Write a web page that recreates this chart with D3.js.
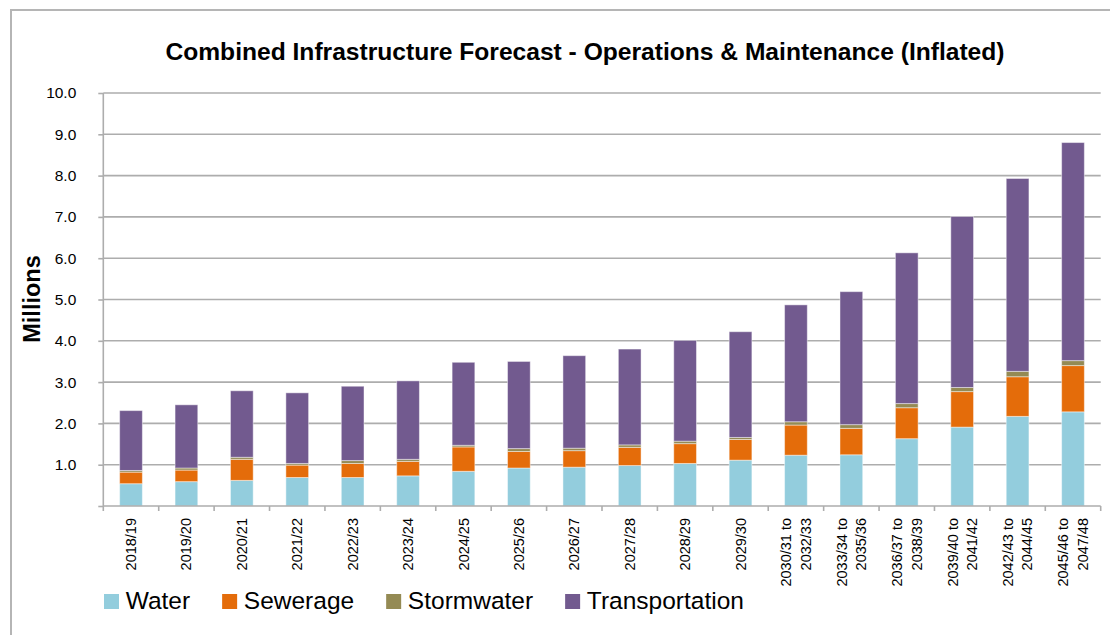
<!DOCTYPE html>
<html>
<head>
<meta charset="utf-8">
<script src="https://cdn.jsdelivr.net/npm/d3@7/dist/d3.min.js"></script>
<style>
  html, body { margin: 0; padding: 0; background: #fff; }
  svg { display: block; }
</style>
</head>
<body>
<svg id="chart" width="1110" height="635"></svg>
<script>
// ---- data ----
const categories = [
  "2018/19", "2019/20", "2020/21", "2021/22", "2022/23", "2023/24",
  "2024/25", "2025/26", "2026/27", "2027/28", "2028/29", "2029/30",
  "2030/31 to|2032/33", "2033/34 to|2035/36", "2036/37 to|2038/39",
  "2039/40 to|2041/42", "2042/43 to|2044/45", "2045/46 to|2047/48"
];
const water          = [0.54, 0.59, 0.62, 0.69, 0.69, 0.73, 0.84, 0.92, 0.94, 0.98, 1.03, 1.11, 1.23, 1.24, 1.63, 1.91, 2.17, 2.28];
const sewerage       = [0.28, 0.28, 0.51, 0.30, 0.34, 0.35, 0.59, 0.40, 0.40, 0.44, 0.48, 0.50, 0.73, 0.64, 0.75, 0.86, 0.96, 1.12];
const stormwater     = [0.04, 0.05, 0.05, 0.04, 0.07, 0.05, 0.04, 0.07, 0.06, 0.06, 0.06, 0.05, 0.08, 0.09, 0.10, 0.10, 0.13, 0.12];
const transportation = [1.45, 1.53, 1.61, 1.71, 1.80, 1.90, 2.01, 2.11, 2.24, 2.32, 2.44, 2.56, 2.83, 3.22, 3.65, 4.14, 4.67, 5.28];
const seriesNames = ["Water", "Sewerage", "Stormwater", "Transportation"];
const yTicks = [0, 1, 2, 3, 4, 5, 6, 7, 8, 9, 10];
const titleText = "Combined Infrastructure Forecast - Operations & Maintenance (Inflated)";
const yAxisTitle = "Millions";

// ---- styles ----
const colors = ["#93CDDD", "#E46C0A", "#948A54", "#725A8F"];
const gridColor = "#ADADAD";
const sans = "'Liberation Sans', Arial, sans-serif";
const narrow = "'Liberation Sans Narrow', 'Arial Narrow', 'Liberation Sans', Arial, sans-serif";

const svg = d3.select("#chart");

// chart area border
svg.append("rect")
  .attr("x", 11).attr("y", 10).attr("width", 1120).attr("height", 650)
  .attr("fill", "none").attr("stroke", "#B5B5B5").attr("stroke-width", 2);

const plot = { left: 103.3, right: 1100.7, top: 93, bottom: 506 };

const x = d3.scaleBand()
  .domain(categories)
  .range([plot.left, plot.right])
  .paddingInner(0.59)
  .paddingOuter(0.295);

const y = d3.scaleLinear().domain([0, 10]).range([plot.bottom, plot.top]);

// gridlines
svg.append("g")
  .selectAll("line")
  .data(yTicks.filter(d => d > 0))
  .join("line")
  .attr("x1", plot.left).attr("x2", plot.right)
  .attr("y1", d => y(d)).attr("y2", d => y(d))
  .attr("stroke", gridColor).attr("stroke-width", 1.6);

// stacked data
const rows = categories.map((c, i) => ({
  cat: c,
  Water: water[i], Sewerage: sewerage[i], Stormwater: stormwater[i], Transportation: transportation[i]
}));
const stacked = d3.stack().keys(seriesNames)(rows);

svg.append("g")
  .selectAll("g")
  .data(stacked)
  .join("g")
  .attr("fill", (d, i) => colors[i])
  .selectAll("rect")
  .data(d => d)
  .join("rect")
  .attr("x", d => x(d.data.cat))
  .attr("width", x.bandwidth())
  .attr("y", d => y(d[1]))
  .attr("height", d => y(d[0]) - y(d[1]))
  .attr("stroke", "#ffffff")
  .attr("stroke-opacity", 0.45)
  .attr("stroke-width", 1);

// y axis
const yAxis = d3.axisLeft(y)
  .tickValues(yTicks)
  .tickSize(5)
  .tickPadding(22)
  .tickFormat(d3.format(".1f"));
const gy = svg.append("g")
  .attr("transform", `translate(${plot.left},0)`)
  .call(yAxis);
gy.select(".domain").attr("stroke", gridColor).attr("stroke-width", 1.6)
  .attr("d", `M0,${plot.top}V${plot.bottom}`);
gy.selectAll(".tick line").attr("stroke", gridColor).attr("stroke-width", 1.6);
gy.selectAll(".tick text")
  .attr("font-family", narrow)
  .attr("font-size", 15.5)
  .attr("fill", "#000");
gy.selectAll(".tick").filter(d => d === 0).select("text").remove();

// x axis
const boundaries = d3.range(categories.length + 1).map(i => plot.left + i * x.step());
const gx = svg.append("g");
gx.append("line")
  .attr("x1", plot.left).attr("x2", plot.right)
  .attr("y1", plot.bottom).attr("y2", plot.bottom)
  .attr("stroke", gridColor).attr("stroke-width", 1.6);
gx.selectAll("line.tk")
  .data(boundaries)
  .join("line")
  .attr("class", "tk")
  .attr("x1", d => d).attr("x2", d => d)
  .attr("y1", plot.bottom).attr("y2", plot.bottom + 5)
  .attr("stroke", gridColor).attr("stroke-width", 1.6);

const lineH = 19.5;
const xl = gx.selectAll("text.xl")
  .data(categories)
  .join("text")
  .attr("class", "xl")
  .attr("transform", d => `translate(${x(d) + x.bandwidth() / 2},518) rotate(-90)`)
  .attr("text-anchor", "end")
  .attr("font-family", sans)
  .attr("font-size", 14.5)
  .attr("fill", "#000");
xl.each(function (d) {
  const parts = d.split("|");
  const t = d3.select(this);
  parts.forEach((p, i) => {
    t.append("tspan")
      .attr("x", 0)
      .attr("y", (i - (parts.length - 1) / 2) * lineH)
      .attr("dy", "0.35em")
      .text(p);
  });
});

// y axis title
svg.append("text")
  .attr("transform", "translate(40,299) rotate(-90)")
  .attr("text-anchor", "middle")
  .attr("font-family", sans)
  .attr("font-weight", "bold")
  .attr("font-size", 23.5)
  .attr("fill", "#000")
  .text(yAxisTitle);

// title
svg.append("text")
  .attr("x", 585).attr("y", 60)
  .attr("text-anchor", "middle")
  .attr("font-family", narrow)
  .attr("font-weight", "bold")
  .attr("font-size", 24.6)
  .attr("fill", "#000")
  .text(titleText);

// legend
const legend = svg.append("g");
let lx = 104;
seriesNames.forEach((name, i) => {
  legend.append("rect")
    .attr("x", lx).attr("y", 594)
    .attr("width", 15).attr("height", 15)
    .attr("fill", colors[i]);
  const t = legend.append("text")
    .attr("x", lx + 21.7).attr("y", 609)
    .attr("font-family", sans)
    .attr("font-size", 24.5)
    .attr("fill", "#000")
    .text(name);
  lx += 21.7 + t.node().getComputedTextLength() + 32;
});
</script>
</body>
</html>
